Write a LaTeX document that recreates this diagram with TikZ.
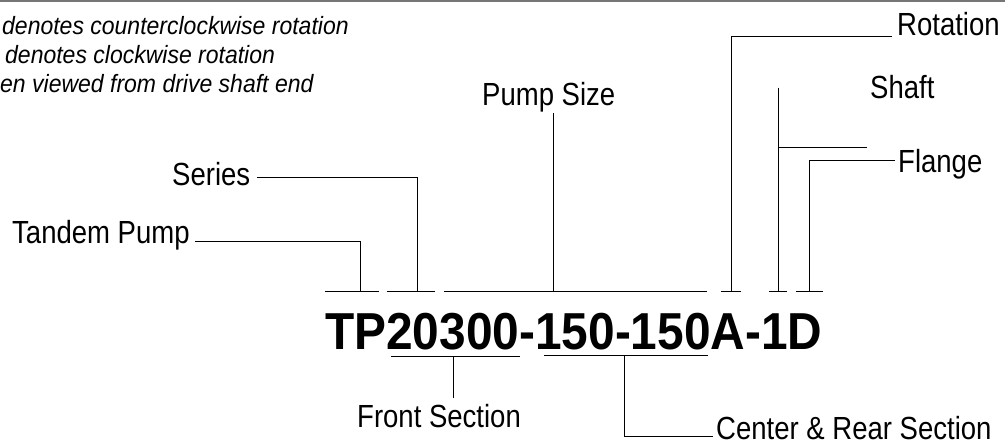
\documentclass[tikz,border=0pt]{standalone}
\usepackage{fontspec}
\setmainfont{Liberation Sans}
\newfontfamily\condf[FakeStretch=0.86]{Liberation Sans}
\newfontfamily\boldf[FakeStretch=0.92]{Liberation Sans Bold}
\newfontfamily\itf[FakeStretch=0.92]{Liberation Sans Italic}
\definecolor{rulegray}{HTML}{767676}
\begin{document}
\begin{tikzpicture}[x=1pt,y=-1pt,
  lbl/.style={inner sep=0pt, font=\condf\fontsize{32}{38}\selectfont},
  note/.style={inner sep=0pt, anchor=base west, font=\itf\fontsize{25}{29}\selectfont},
  code/.style={inner sep=0pt, anchor=base west, font=\boldf\fontsize{52}{60}\selectfont},
  conn/.style={line width=1pt, black},
  tick/.style={line width=1pt, black},
  topline/.style={line width=1.6pt, color=rulegray}]
\useasboundingbox (0,0) rectangle (1005,446);
\draw[topline] (0,0.8) -- (1005,0.8);

% notes
\node[note] (n1) at (2,35) {denotes counterclockwise rotation};
\node[note] (n2) at (5,64) {denotes clockwise rotation};
\node[note] (n3) at (0,93) {en viewed from drive shaft end};

% labels
\node[lbl, anchor=base west] (rot) at (897,36) {Rotation};
\node[lbl, anchor=base west] (sh) at (870,99) {Shaft};
\node[lbl, anchor=base west] (fl) at (898,173) {Flange};
\node[lbl, anchor=base west] (ps) at (482,106) {Pump Size};
\node[lbl, anchor=base west] (se) at (172,186) {Series};
\node[lbl, anchor=base west] (tp) at (12,244) {Tandem Pump};
\node[code] (code) at (325,350) {TP20300-150-150A-1D};
\node[lbl, anchor=base west] (fs) at (357,428) {Front Section};
\node[lbl, anchor=base west] (cr) at (716,439) {Center \& Rear Section};

% tick points
\coordinate (k1) at (360,292);
\coordinate (k2) at (417,292);
\coordinate (k3) at (553,292);
\coordinate (k4) at (731,292);
\coordinate (k5) at (778,292);
\coordinate (k6) at (809,292);

% ticks
\draw[tick] (325,292) -- (379,292);
\draw[tick] (387,292) -- (435,292);
\draw[tick] (444,292) -- (707,292);
\draw[tick] (721,292) -- (741,292);
\draw[tick] (769,292) -- (787,292);
\draw[tick] (796,292) -- (823,292);

% connectors above
\draw[conn] ([xshift=-5pt,yshift=-1pt]rot.base west) -| (k4);
\draw[conn] (sh.west -| k5) -- (k5);
\coordinate (sb1) at (778,148);
\coordinate (sb2) at (867,148);
\draw[conn] (sb1) -- (sb2);
\draw[conn] ([xshift=-3pt,yshift=12pt]fl.base west) -| (k6);
\draw[conn] (ps.south -| k3) -- (k3);
\draw[conn] ([xshift=7pt,yshift=8pt]se.base east) -| (k2);
\draw[conn] ([xshift=5pt,yshift=2pt]tp.base east) -| (k1);

% underlines below
\coordinate (u1) at (453,357);
\draw[conn] (391,357) -- (520,357);
\draw[conn] (u1) -- ([yshift=7pt]fs.north -| u1);
\coordinate (u2) at (624,356);
\draw[conn] (544,356) -- (708,356);
\draw[conn] (u2) |- ([xshift=-3pt,yshift=2pt]cr.base west);
\end{tikzpicture}
\end{document}
